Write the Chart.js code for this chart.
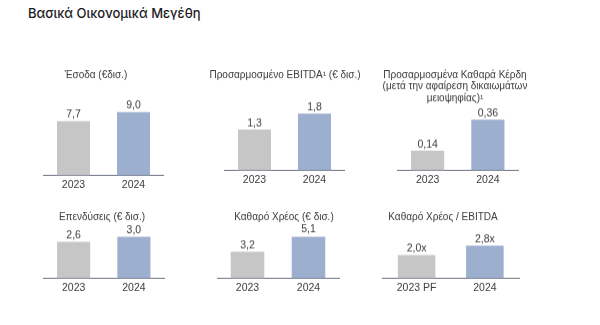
<!DOCTYPE html>
<html>
<head>
<meta charset="utf-8">
<script src="https://cdn.jsdelivr.net/npm/chart.js@4.4.0/dist/chart.umd.min.js"></script>
<style>
  html, body { margin: 0; padding: 0; background: #fff; }
  #wrap { position: relative; width: 600px; height: 325px; overflow: hidden; }
  #main-title { position: absolute; left: 28px; top: 5px; font-family: Inter, sans-serif; font-weight: 500; font-size: 13px; color: #1b1b24; white-space: nowrap; }
  canvas { position: absolute; }
</style>
</head>
<body>
<div id="wrap">
  <div id="main-title">Βασικά Οικονομικά Μεγέθη</div>
</div>
<script>
// Data
const titles = [
    ['Έσοδα (€δισ.)'],
    ['Προσαρμοσμένο EBITDA¹ (€ δισ.)'],
    ['Προσαρμοσμένα Καθαρά Κέρδη', '(μετά την αφαίρεση δικαιωμάτων', 'μειοψηφίας)¹'],
    ['Επενδύσεις (€ δισ.)'],
    ['Καθαρό Χρέος (€ δισ.)'],
    ['Καθαρό Χρέος / EBITDA']
];
const years = [
    ['2023', '2024'],
    ['2023', '2024'],
    ['2023', '2024'],
    ['2023', '2024'],
    ['2023', '2024'],
    ['2023 PF', '2024']
];
const revenue = [7.7, 9.0];
const ebitda = [1.3, 1.8];
const netProfit = [0.14, 0.36];
const capex = [2.6, 3.0];
const netDebt = [3.2, 5.1];
const leverage = [2.0, 2.8];
const seriesValues = [revenue, ebitda, netProfit, capex, netDebt, leverage];
const decimals = [1, 1, 2, 1, 1, 1];
const suffixes = ['', '', '', '', '', 'x'];

// Layout of each small panel (pixels)
const panels = [
    { titleX: 96,  titleY: 75,  chartLeft: 43.5,  chartRight: 163.5, baseline: 175, pxPerUnit: 7.0 },
    { titleX: 285, titleY: 75,  chartLeft: 224.5, chartRight: 344.5, baseline: 170, pxPerUnit: 31.3 },
    { titleX: 455, titleY: 75,  chartLeft: 397.5, chartRight: 518,   baseline: 170, pxPerUnit: 140 },
    { titleX: 102, titleY: 217, chartLeft: 43.5,  chartRight: 164,   baseline: 278, pxPerUnit: 13.9 },
    { titleX: 284, titleY: 217, chartLeft: 217,   chartRight: 339,   baseline: 278, pxPerUnit: 8.22 },
    { titleX: 443, titleY: 217, chartLeft: 382.5, chartRight: 519,   baseline: 278, pxPerUnit: 11.6 }
];

const barColors = ['#c6c6c6', '#9cafcf'];
const textColor = '#3a3a3a';
const axisColor = '#6b7282';
const fontFamily = '"Liberation Sans", Arial, sans-serif';
const titleSize = 10;
const titleLineH = 11.5;
const tickSize = 10.5;
const tickPad = 3;
const canvasW = 170;

// panel title, centred on the canvas rather than on the chart area
const panelTitle = {
    id: 'panelTitle',
    afterDraw(chart) {
        const idx = chart.options.plugins.panelTitle.panel;
        const ctx = chart.ctx;
        ctx.save();
        ctx.font = titleSize + 'px ' + fontFamily;
        ctx.fillStyle = textColor;
        ctx.textAlign = 'center';
        ctx.textBaseline = 'middle';
        titles[idx].forEach((line, i) => {
            ctx.fillText(line, chart.width / 2, titleLineH / 2 + i * titleLineH);
        });
        ctx.restore();
    }
};

const valueLabels = {
    id: 'valueLabels',
    afterDatasetsDraw(chart) {
        const ctx = chart.ctx;
        const idx = chart.options.plugins.valueLabels.panel;
        const meta = chart.getDatasetMeta(0);
        ctx.save();
        ctx.font = tickSize + 'px ' + fontFamily;
        ctx.fillStyle = textColor;
        ctx.textAlign = 'center';
        ctx.textBaseline = 'bottom';
        meta.data.forEach((bar, i) => {
            const v = seriesValues[idx][i];
            const txt = v.toFixed(decimals[idx]).replace('.', ',') + suffixes[idx];
            ctx.fillText(txt, bar.x, bar.y - 1);
        });
        ctx.restore();
    }
};

function makePanel(idx) {
    const p = panels[idx];
    const lines = titles[idx].length;
    const canvasLeft = p.titleX - canvasW / 2;
    const canvasTop = p.titleY - titleLineH / 2;
    const topPad = lines * titleLineH + 14;
    const plotH = p.baseline - canvasTop - topPad;
    const axisH = tickSize * 1.2 + tickPad * 2;
    const canvasH = p.baseline - canvasTop + axisH;

    const canvas = document.createElement('canvas');
    canvas.style.left = canvasLeft + 'px';
    canvas.style.top = canvasTop + 'px';
    canvas.style.width = canvasW + 'px';
    canvas.style.height = canvasH + 'px';
    canvas.width = canvasW;
    canvas.height = canvasH;
    document.getElementById('wrap').appendChild(canvas);

    new Chart(canvas.getContext('2d'), {
        type: 'bar',
        data: {
            labels: years[idx],
            datasets: [{
                data: seriesValues[idx],
                backgroundColor: barColors,
                borderWidth: 0,
                categoryPercentage: 1.0,
                barPercentage: 0.55
            }]
        },
        options: {
            responsive: false,
            animation: false,
            events: [],
            layout: {
                padding: { left: p.chartLeft - canvasLeft, right: canvasLeft + canvasW - p.chartRight, top: topPad, bottom: 0 }
            },
            scales: {
                x: {
                    grid: { display: false, drawTicks: false },
                    border: { display: true, color: axisColor, width: 1 },
                    ticks: { color: textColor, padding: tickPad, font: { family: fontFamily, size: tickSize } }
                },
                y: {
                    display: false,
                    min: 0,
                    max: plotH / p.pxPerUnit
                }
            },
            plugins: {
                legend: { display: false },
                title: { display: false },
                tooltip: { enabled: false },
                panelTitle: { panel: idx },
                valueLabels: { panel: idx }
            }
        },
        plugins: [panelTitle, valueLabels]
    });
}

for (let i = 0; i < panels.length; i++) {
    makePanel(i);
}
</script>
</body>
</html>
